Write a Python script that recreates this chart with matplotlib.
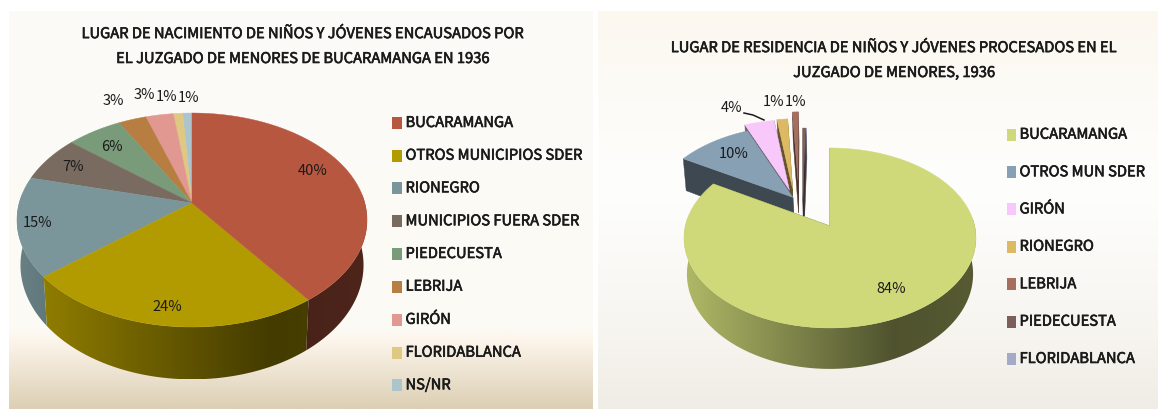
"""Two exploded 3D-look pie charts, Juzgado de Menores de Bucaramanga, 1936."""

import matplotlib

matplotlib.use("Agg")
import matplotlib.patheffects as pe
import matplotlib.pyplot as plt
import numpy as np
from matplotlib.colors import to_rgb
from matplotlib.patches import Polygon, Rectangle

plt.rcParams["font.family"] = ["Noto Sans CJK SC", "DejaVu Sans"]

# Data
birth_places = [
    "BUCARAMANGA",
    "OTROS MUNICIPIOS SDER",
    "RIONEGRO",
    "MUNICIPIOS FUERA SDER",
    "PIEDECUESTA",
    "LEBRIJA",
    "GIRÓN",
    "FLORIDABLANCA",
    "NS/NR",
]
birth_values = [40, 24, 15, 7, 6, 3, 3, 1, 1]
birth_colors = [
    "#b85740",
    "#b29b00",
    "#7a969b",
    "#7a6b60",
    "#7a9b7a",
    "#b87d40",
    "#e09890",
    "#dec882",
    "#acc4cc",
]
birth_title = [
    "LUGAR DE NACIMIENTO DE NIÑOS Y JÓVENES ENCAUSADOS POR",
    "EL JUZGADO DE MENORES DE BUCARAMANGA EN 1936",
]

home_places = [
    "BUCARAMANGA",
    "OTROS MUN SDER",
    "GIRÓN",
    "RIONEGRO",
    "LEBRIJA",
    "PIEDECUESTA",
    "FLORIDABLANCA",
]
home_values = [83.5, 10, 3.9, 1.4, 0.8, 0.3, 0.1]
home_colors = [
    "#cfd979",
    "#87a0b4",
    "#f8c8fa",
    "#deb964",
    "#a56e5f",
    "#7d5f5a",
    "#a5aac8",
]
home_title = [
    "LUGAR DE RESIDENCIA DE NIÑOS Y JÓVENES PROCESADOS EN EL",
    "JUZGADO DE MENORES, 1936",
]

# Layout, in pixels of the 1158x409 picture
birth_pie = dict(cx=192, cy=203, a=172.8, b=104.3, k=0.159, depth=44)
home_pie = dict(cx=830, cy=226, a=144.7, b=88.4, k=0.133, depth=35.5)
home_explode = [0, 0.45, 0.45, 0.45, 0.56, 0.3, 0.3]
home_shift = [0, 0.03, -0.17, -0.22, -0.21, -0.19, -0.19]

birth_label_pos = [
    (313, 171),
    (167, 307),
    (38, 223),
    (73, 167),
    (112, 147),
    (113, 101),
    (144, 95),
    (167, 97),
    (189, 98),
]
home_label_pos = [(891, 289), (734, 154), (732, 108), (774, 102), (796, 102)]

birth_legend_y = [123, 155.7, 188.3, 221.3, 254, 286.7, 319.7, 352.7, 385.3]
home_legend_y = [134.7, 172.3, 209.3, 246.7, 284.3, 321.7, 359]

TEXT = "#1a1a1a"
TITLE_SIZE = 10.6
LEGEND_SIZE = 10.6
LABEL_SIZE = 10.5
BOLDER = [pe.withStroke(linewidth=0.45, foreground=TEXT)]


def project(x, y, pie):
    """Map a point of the pie plane (unit circle) to picture pixels."""
    w = 1 - pie["k"] * np.asarray(y)
    return pie["a"] * np.asarray(x) / w, pie["b"] * np.asarray(y) / w, w


def top_xy(x, y, pie):
    px, py, _ = project(x, y, pie)
    return np.column_stack([pie["cx"] + px, pie["cy"] + py])


def bottom_xy(x, y, pie):
    px, py, w = project(x, y, pie)
    return np.column_stack([pie["cx"] + 0.98 * px, pie["cy"] + py + pie["depth"] / w])


def side_shade(x):
    return np.interp(x, [-1, 0.45, 1], [0.85, 0.38, 0.42])


def draw_side(ax, outline, rgb, pie):
    """Fill the rim outline with a left-to-right shading, clipped by imshow."""
    x0, x1 = outline[:, 0].min(), outline[:, 0].max()
    y0, y1 = outline[:, 1].min(), outline[:, 1].max()
    if x1 - x0 < 0.5:
        return
    cols = np.linspace(x0, x1, max(int(x1 - x0), 2))
    shade = side_shade((cols - pie["cx"]) / pie["a"])
    img = (shade[:, None] * rgb)[None, :, :]
    im = ax.imshow(img, extent=(x0, x1, y1, y0), aspect="auto", zorder=2)
    clip = Polygon(outline, transform=ax.transData, fc="none", ec="none")
    ax.add_patch(clip)
    im.set_clip_path(clip)


def draw_pie(ax, values, colors, pie, explode=None, shift=None):
    """Draw the slices back to front: walls, outer rim, then the top face."""
    shares = np.asarray(values, dtype=float) / sum(values)
    ends = np.cumsum(shares) * 2 * np.pi
    starts = ends - shares * 2 * np.pi
    explode = explode if explode is not None else [0] * len(values)
    shift = shift if shift is not None else [0] * len(values)
    walls = any(explode)

    for i in reversed(range(len(values))):
        rgb = np.array(to_rgb(colors[i]))
        t = np.linspace(starts[i], ends[i], max(int(shares[i] * 360), 2) + 1)
        mid = (starts[i] + ends[i]) / 2
        off_x = explode[i] * np.sin(mid) + shift[i]
        off_y = -explode[i] * np.cos(mid)
        rim_x = np.sin(t) + off_x
        rim_y = -np.cos(t) + off_y
        apex_x = np.array([off_x])
        apex_y = np.array([off_y])

        if walls:
            wall_color = tuple(rgb * 0.45)
            for j in (0, -1):
                corners = np.vstack(
                    [
                        top_xy(apex_x, apex_y, pie),
                        top_xy(rim_x[[j]], rim_y[[j]], pie),
                        bottom_xy(rim_x[[j]], rim_y[[j]], pie),
                        bottom_xy(apex_x, apex_y, pie),
                    ]
                )
                ax.add_patch(
                    Polygon(corners, fc=wall_color, ec=wall_color, lw=0.3, zorder=2)
                )

        upper = top_xy(rim_x, rim_y, pie)
        lower = bottom_xy(rim_x, rim_y, pie)
        # only the part of the rim that faces the viewer
        facing = -np.cos(t) > -0.1
        if facing.sum() >= 2:
            draw_side(ax, np.vstack([upper[facing], lower[facing][::-1]]), rgb, pie)
        face = np.vstack([top_xy(apex_x, apex_y, pie), upper])
        ax.add_patch(Polygon(face, fc=colors[i], ec=colors[i], lw=0.3, zorder=2))


def draw_legend(ax, names, colors, ys, box_x, box_w, text_x):
    for name, color, y in zip(names, colors, ys):
        ax.add_patch(Rectangle((box_x, y - 6), box_w, 12, fc=color, ec="none", zorder=3))
        ax.text(
            text_x,
            y,
            name,
            fontsize=LEGEND_SIZE,
            color=TEXT,
            va="center",
            zorder=4,
            path_effects=BOLDER,
        )


def draw_labels(ax, values, positions):
    for value, (x, y) in zip(values, positions):
        ax.text(
            x,
            y,
            f"{round(value)}%",
            fontsize=LABEL_SIZE,
            color=TEXT,
            ha="center",
            va="center",
            zorder=4,
        )


def draw_title(ax, lines, x, ys):
    for line, y in zip(lines, ys):
        ax.text(
            x,
            y,
            line,
            fontsize=TITLE_SIZE,
            color=TEXT,
            ha="center",
            va="center",
            zorder=4,
            path_effects=BOLDER,
        )


def panel(ax, extent, stops):
    """Vertical gradient panel background; stops are (fraction, rgb)."""
    rows = np.linspace(0, 1, 200)
    fracs = [s[0] for s in stops]
    img = np.stack(
        [np.interp(rows, fracs, [s[1][c] / 255 for s in stops]) for c in range(3)],
        axis=1,
    )[:, None, :]
    ax.imshow(img, extent=extent, aspect="auto", zorder=0, interpolation="bilinear")


fig = plt.figure(figsize=(11.58, 4.09), dpi=100)
ax = fig.add_axes([0, 0, 1, 1])

panel(
    ax,
    (9, 593, 409, 11),
    [
        (0, (252, 251, 247)),
        (0.8, (252, 250, 245)),
        (0.83, (252, 245, 235)),
        (1, (220, 207, 180)),
    ],
)
panel(
    ax,
    (598, 1158, 409, 11),
    [
        (0, (252, 248, 240)),
        (0.45, (254, 254, 253)),
        (0.8, (247, 245, 240)),
        (1, (240, 237, 230)),
    ],
)

draw_pie(ax, birth_values, birth_colors, birth_pie)
draw_pie(ax, home_values, home_colors, home_pie, home_explode, home_shift)

draw_labels(ax, birth_values, birth_label_pos)
draw_labels(ax, home_values, home_label_pos)
ax.plot([744, 753, 764], [113, 115, 120], color=TEXT, lw=1.1, zorder=4)

draw_legend(ax, birth_places, birth_colors, birth_legend_y, 392, 10, 405.5)
draw_legend(ax, home_places, home_colors, home_legend_y, 1006.5, 9, 1019.5)

draw_title(ax, birth_title, 303.5, (34, 59))
draw_title(ax, home_title, 894.5, (48, 73))

ax.set_xlim(0, 1158)
ax.set_ylim(409, 0)
ax.axis("off")

fig.savefig("out.png", dpi=100)
plt.close(fig)
